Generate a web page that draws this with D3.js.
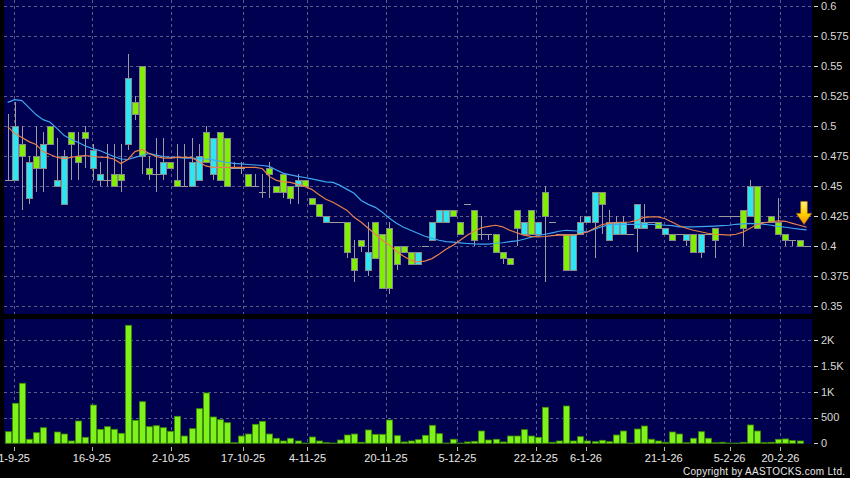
<!DOCTYPE html>
<html>
<head>
<meta charset="utf-8">
<script src="https://cdn.jsdelivr.net/npm/d3@7"></script>
<style>
  html, body { margin: 0; padding: 0; background: #000; }
  svg { display: block; font-family: Arial, "Liberation Sans", sans-serif; }
</style>
</head>
<body>
<svg id="chart" width="850" height="478"></svg>
<script>
// daily candles (one entry per trading day shown)
const open  = [0.455,0.455,0.485,0.44,0.475,0.465,0.5,0.45,0.435,0.495,0.475,0.495,0.465,0.455,0.455,0.46,0.46,0.485,0.52,0.55,
  0.465,0.46,0.46,0.47,0.455,0.45,0.45,0.455,0.495,0.46,0.495,0.49,0.465,0.465,0.46,0.45,0.445,0.465,0.45,0.46,
  0.45,0.45,0.455,0.44,0.435,0.42,0.42,0.42,0.42,0.39,0.405,0.38,0.42,0.41,0.415,0.4,0.4,0.395,0.385,0.4,
  0.405,0.42,0.42,0.43,0.42,0.435,0.43,0.41,0.41,0.41,0.395,0.39,0.43,0.41,0.43,0.41,0.445,0.42,0.41,0.41,
  0.38,0.41,0.42,0.42,0.445,0.405,0.41,0.41,0.41,0.415,0.415,0.42,0.42,0.41,0.41,0.41,0.405,0.41,0.395,0.41,
  0.415,0.425,0.425,0.425,0.43,0.425,0.45,0.42,0.425,0.42,0.41,0.405,0.405,0.4];
const high  = [0.51,0.52,0.5,0.475,0.5,0.495,0.5,0.49,0.48,0.495,0.495,0.5,0.485,0.47,0.485,0.485,0.485,0.56,0.525,0.55,
  0.475,0.49,0.49,0.47,0.485,0.485,0.49,0.485,0.5,0.49,0.495,0.49,0.47,0.47,0.46,0.46,0.46,0.47,0.45,0.46,
  0.45,0.46,0.455,0.44,0.435,0.425,0.42,0.42,0.42,0.405,0.405,0.42,0.42,0.41,0.42,0.4,0.4,0.395,0.395,0.4,
  0.42,0.43,0.43,0.43,0.42,0.435,0.43,0.425,0.41,0.41,0.395,0.39,0.43,0.42,0.43,0.42,0.45,0.42,0.41,0.41,
  0.41,0.425,0.425,0.445,0.445,0.43,0.425,0.425,0.41,0.435,0.435,0.42,0.42,0.415,0.41,0.41,0.41,0.41,0.41,0.41,
  0.415,0.425,0.425,0.425,0.43,0.455,0.45,0.42,0.425,0.44,0.41,0.405,0.405,0.4];
const low   = [0.455,0.455,0.43,0.435,0.445,0.445,0.485,0.45,0.435,0.455,0.455,0.465,0.455,0.45,0.45,0.45,0.445,0.48,0.505,0.46,
  0.455,0.445,0.455,0.465,0.45,0.45,0.45,0.455,0.47,0.455,0.455,0.45,0.465,0.46,0.45,0.45,0.44,0.44,0.445,0.44,
  0.435,0.435,0.45,0.435,0.425,0.42,0.42,0.42,0.39,0.37,0.395,0.375,0.39,0.365,0.36,0.38,0.395,0.385,0.385,0.4,
  0.405,0.42,0.42,0.425,0.41,0.435,0.4,0.405,0.405,0.395,0.385,0.385,0.4,0.41,0.41,0.41,0.37,0.42,0.41,0.38,
  0.38,0.41,0.42,0.39,0.41,0.405,0.41,0.41,0.41,0.395,0.415,0.42,0.415,0.41,0.405,0.41,0.4,0.395,0.39,0.41,
  0.39,0.425,0.425,0.425,0.4,0.425,0.415,0.42,0.42,0.41,0.4,0.4,0.4,0.4];
const close = [0.455,0.5,0.475,0.47,0.465,0.485,0.485,0.455,0.475,0.485,0.47,0.49,0.48,0.46,0.455,0.45,0.455,0.54,0.51,0.475,
  0.46,0.46,0.47,0.465,0.45,0.45,0.47,0.475,0.47,0.49,0.455,0.45,0.465,0.465,0.45,0.45,0.445,0.46,0.445,0.445,
  0.44,0.455,0.45,0.435,0.425,0.425,0.42,0.42,0.395,0.38,0.4,0.395,0.39,0.365,0.365,0.385,0.395,0.385,0.395,0.4,
  0.42,0.43,0.43,0.425,0.41,0.435,0.405,0.41,0.41,0.395,0.39,0.385,0.415,0.42,0.41,0.42,0.425,0.42,0.41,0.38,
  0.41,0.42,0.425,0.445,0.435,0.42,0.42,0.42,0.41,0.435,0.42,0.42,0.415,0.415,0.405,0.41,0.41,0.395,0.41,0.41,
  0.405,0.425,0.425,0.425,0.415,0.45,0.415,0.42,0.42,0.41,0.405,0.405,0.4,0.4];
const volume = [225,775,1163,78,205,302,0,219,180,45,432,116,742,271,322,271,194,2287,446,806,
  322,341,302,232,523,141,283,671,975,510,457,399,12,141,180,368,426,180,97,45,
  97,45,5,122,45,12,5,64,161,180,20,258,174,174,452,148,26,45,71,155,
  348,187,5,78,5,26,39,238,64,78,26,141,141,264,141,116,698,20,45,723,
  45,129,45,32,58,32,161,238,5,277,335,78,45,20,219,180,12,97,225,97,
  10,20,5,5,20,355,238,12,20,78,84,52,45,0];
// moving averages as drawn (short = orange, long = blue)
const maShort = [0.4995,0.4937,0.4904,0.487,0.4846,0.4787,0.4763,0.4738,0.4729,0.4738,0.475,0.4754,0.4746,0.474,0.4738,0.4725,0.4688,0.4721,0.4787,0.4804,
  0.4771,0.4746,0.4733,0.4733,0.4738,0.4738,0.4738,0.4704,0.4667,0.4655,0.4655,0.4655,0.4655,0.4655,0.4655,0.4655,0.4646,0.458,0.4547,0.4534,
  0.453,0.4513,0.4497,0.4472,0.443,0.4389,0.4364,0.4331,0.4297,0.4239,0.4198,0.4148,0.4098,0.4048,0.4007,0.3957,0.3915,0.3882,0.3868,0.3874,
  0.3895,0.3932,0.3973,0.4007,0.4048,0.409,0.4123,0.4152,0.4164,0.4173,0.416,0.4131,0.411,0.409,0.4081,0.4076,0.4079,0.4086,0.409,0.409,
  0.409,0.4102,0.4117,0.4148,0.4177,0.4189,0.4194,0.4198,0.42,0.4214,0.4239,0.4242,0.4242,0.4227,0.4198,0.4169,0.4148,0.4131,0.4119,0.4106,
  0.4098,0.4094,0.409,0.4098,0.4115,0.4148,0.4177,0.4194,0.4202,0.421,0.4206,0.4189,0.4173,0.4156];
const maLong = [0.5197,0.5219,0.5211,0.5153,0.5095,0.5053,0.5031,0.4978,0.492,0.4887,0.4862,0.4833,0.4812,0.4796,0.4771,0.4746,0.4725,0.4721,0.4738,0.4754,
  0.4771,0.4758,0.4746,0.4738,0.4738,0.4733,0.4732,0.4729,0.4725,0.4717,0.4708,0.4696,0.4688,0.4684,0.4679,0.4675,0.4671,0.4663,0.4634,0.4605,
  0.4592,0.458,0.4571,0.4559,0.4547,0.4534,0.453,0.4505,0.4472,0.4439,0.438,0.4347,0.4322,0.4281,0.4231,0.4189,0.4156,0.4131,0.4106,0.4081,
  0.4065,0.4048,0.4036,0.4032,0.4026,0.4021,0.4017,0.4015,0.4015,0.4023,0.4027,0.4036,0.4042,0.4056,0.4073,0.4086,0.4098,0.411,0.4123,0.4131,
  0.4127,0.4123,0.4117,0.414,0.416,0.4177,0.4181,0.4181,0.4181,0.4181,0.4181,0.4181,0.4177,0.4173,0.4169,0.416,0.4159,0.416,0.4162,0.4164,
  0.4166,0.4169,0.4173,0.4181,0.4185,0.4189,0.4185,0.4181,0.4173,0.4164,0.4156,0.4148,0.414,0.4135];
// date ticks: position (in trading-day index) and label
const tickPos = [0.9, 11.9, 23.1, 33.3, 42.4, 53.5, 63.6, 74.7, 81.8, 92.8, 102.1, 109.3];
const tickLabels = ["1-9-25","16-9-25","2-10-25","17-10-25","4-11-25","20-11-25","5-12-25","22-12-25","6-1-26","21-1-26","5-2-26","20-2-26"];
const priceTicks = [0.35,0.375,0.4,0.425,0.45,0.475,0.5,0.525,0.55,0.575,0.6];
const volTicks = [0,500,1000,1500,2000];
const volTickLabels = ["0","500","1K","1.5K","2K"];

const N = close.length;
const idx = d3.range(N);
const svg = d3.select("#chart");
const L = 4, R = 812;
const P = { top: 0, bottom: 314 }, V = { top: 319, bottom: 444 };
const BG = "#000050", GRID = "#5c5c88";
const UP = "#2ee6f2", DOWN = "#80f000", EDGE = "#8a8a8a";

const x = d3.scaleLinear().domain([0, N - 1]).range([7.7, 806.6]);
const y = d3.scaleLinear().domain([0.35, 0.6]).range([306, 6]);
const yv = d3.scaleLinear().domain([0, 2000]).range([443.3, 340.1]);
const cx = i => Math.round(x(i));

// panels
svg.append("rect").attr("x", L).attr("y", P.top).attr("width", R - L).attr("height", P.bottom - P.top).attr("fill", BG);
svg.append("rect").attr("x", L).attr("y", V.top).attr("width", R - L).attr("height", V.bottom - V.top).attr("fill", BG);

// grid
const grid = svg.append("g").attr("stroke", GRID).attr("stroke-dasharray", "3,3").attr("stroke-width", 1);
grid.selectAll(".hp").data(priceTicks).join("line")
  .attr("x1", L).attr("x2", R)
  .attr("y1", d => Math.round(y(d)) + 0.5).attr("y2", d => Math.round(y(d)) + 0.5);
grid.selectAll(".hv").data(volTicks.slice(1)).join("line")
  .attr("x1", L).attr("x2", R)
  .attr("y1", d => Math.round(yv(d)) + 0.5).attr("y2", d => Math.round(yv(d)) + 0.5);
grid.selectAll(".vp").data(tickPos).join("line")
  .attr("x1", d => Math.round(x(d)) + 0.5).attr("x2", d => Math.round(x(d)) + 0.5)
  .attr("y1", P.top).attr("y2", P.bottom);
grid.selectAll(".vv").data(tickPos).join("line")
  .attr("x1", d => Math.round(x(d)) + 0.5).attr("x2", d => Math.round(x(d)) + 0.5)
  .attr("y1", V.top).attr("y2", V.bottom);

// candles
const cg = svg.append("g");
cg.selectAll("line.wick").data(idx).join("line").attr("class", "wick")
  .attr("x1", i => cx(i) + 0.5).attr("x2", i => cx(i) + 0.5)
  .attr("y1", i => y(high[i])).attr("y2", i => y(low[i]))
  .attr("stroke", "#9c9c9c");
const flat = idx.filter(i => open[i] === close[i]);
const body = idx.filter(i => open[i] !== close[i]);
cg.selectAll("line.doji").data(flat).join("line").attr("class", "doji")
  .attr("x1", i => cx(i) - 3).attr("x2", i => cx(i) + 4)
  .attr("y1", i => Math.round(y(open[i])) + 0.5).attr("y2", i => Math.round(y(open[i])) + 0.5)
  .attr("stroke", "#9c9c9c");
cg.selectAll("rect").data(body).join("rect")
  .attr("x", i => cx(i) - 2.5)
  .attr("width", 6)
  .attr("y", i => Math.round(y(Math.max(open[i], close[i]))) + 0.5)
  .attr("height", i => Math.round(Math.abs(y(open[i]) - y(close[i]))))
  .attr("fill", i => close[i] > open[i] ? UP : DOWN)
  .attr("stroke", EDGE);

// moving averages
const line = d3.line().x((d, i) => x(i)).y(d => y(d));
svg.append("path").datum(maLong).attr("d", line).attr("fill", "none").attr("stroke", "#3fa6f0").attr("stroke-width", 1.2);
svg.append("path").datum(maShort).attr("d", line).attr("fill", "none").attr("stroke", "#e8804a").attr("stroke-width", 1.2);

// arrow marker at the last bar
const defs = svg.append("defs");
const gr = defs.append("linearGradient").attr("id", "arr").attr("x1", 0).attr("y1", 0).attr("x2", 0).attr("y2", 1);
gr.append("stop").attr("offset", "0%").attr("stop-color", "#fff27a");
gr.append("stop").attr("offset", "55%").attr("stop-color", "#ffd000");
gr.append("stop").attr("offset", "100%").attr("stop-color", "#f09000");
const ax = x(N - 1) - 2.6, ay = y(0.418);
svg.append("path")
  .attr("d", `M${ax - 3.3},${ay - 23} h6.6 v12 h4.3 L${ax},${ay} L${ax - 7.6},${ay - 11} h4.3 Z`)
  .attr("fill", "url(#arr)").attr("stroke", "#c07000").attr("stroke-width", 0.6);

// volume bars
svg.append("g").selectAll("rect").data(idx.filter(i => volume[i] > 0)).join("rect")
  .attr("x", i => cx(i) - 2.5)
  .attr("width", 6)
  .attr("y", i => yv(volume[i]))
  .attr("height", i => yv(0) - yv(volume[i]))
  .attr("fill", "#7ef21a").attr("stroke", "#3f8c00").attr("stroke-width", 0.8);

// right axes
const axc = "#d8d8d8";
const pa = svg.append("g");
pa.selectAll("line").data(priceTicks).join("line")
  .attr("x1", 814).attr("x2", 818)
  .attr("y1", d => Math.round(y(d)) + 0.5).attr("y2", d => Math.round(y(d)) + 0.5)
  .attr("stroke", axc);
pa.selectAll("text").data(priceTicks).join("text")
  .attr("x", 821).attr("y", d => y(d)).attr("dy", "0.35em")
  .attr("fill", axc).style("font-size", "11px")
  .text(d => d3.format("")(+d.toFixed(3)));
const va = svg.append("g");
va.selectAll("line").data(volTicks).join("line")
  .attr("x1", 814).attr("x2", 818)
  .attr("y1", d => Math.round(yv(d)) + 0.5).attr("y2", d => Math.round(yv(d)) + 0.5)
  .attr("stroke", axc);
va.selectAll("text").data(volTicks).join("text")
  .attr("x", 821).attr("y", d => yv(d)).attr("dy", "0.35em")
  .attr("fill", axc).style("font-size", "11px")
  .text((d, i) => volTickLabels[i]);

// date axis
const xa = svg.append("g");
xa.selectAll("line").data(tickPos).join("line")
  .attr("x1", d => Math.round(x(d)) + 0.5).attr("x2", d => Math.round(x(d)) + 0.5)
  .attr("y1", 447).attr("y2", 451).attr("stroke", "#bbb");
xa.selectAll("text").data(tickPos).join("text")
  .attr("x", d => x(d)).attr("y", 462)
  .attr("text-anchor", "middle").attr("fill", "#e8e8e8").style("font-size", "11px")
  .text((d, i) => tickLabels[i]);

svg.append("text").attr("x", 845).attr("y", 475).attr("text-anchor", "end")
  .attr("fill", "#e8e8e8").style("font-size", "10px")
  .attr("textLength", 162).attr("lengthAdjust", "spacing")
  .text("Copyright by AASTOCKS.com Ltd.");
</script>
</body>
</html>
